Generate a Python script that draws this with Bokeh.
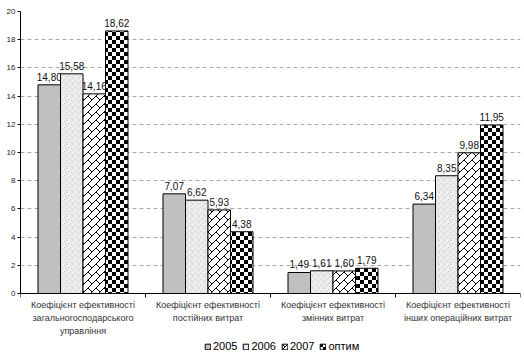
import numpy as np
from bokeh.plotting import figure
from bokeh.models import (ColumnDataSource, Range1d, FixedTicker, Legend, LegendItem,
                          CanvasTexture, Span)
from bokeh.core.properties import value
from bokeh.embed import file_html
from bokeh.resources import INLINE

categories = [
    "Коефіцієнт ефективності\nзагальногосподарського\nуправління",
    "Коефіцієнт ефективності\nпостійних витрат",
    "Коефіцієнт ефективності\nзмінних витрат",
    "Коефіцієнт ефективності\nінших операційних витрат",
]
series_names = ["2005", "2006", "2007", "оптим"]
v2005 = [14.80, 7.07, 1.49, 6.34]
v2006 = [15.58, 6.62, 1.61, 8.35]
v2007 = [14.16, 5.93, 1.60, 9.98]
voptim = [18.62, 4.38, 1.79, 11.95]
y_ticks = [0, 2, 4, 6, 8, 10, 12, 14, 16, 18, 20]

FONT = "Liberation Sans"

# texture tiles: the canvas is resized here to the tile size
checker = CanvasTexture(repetition="repeat", code="""
const c = ctx.canvas; c.width = 8; c.height = 8;
ctx.fillStyle = '#ffffff';
ctx.fillRect(0, 0, 8, 8);
ctx.fillStyle = '#000000';
ctx.fillRect(0, 0, 4, 4);
ctx.fillRect(4, 4, 4, 4);
""")

brick = CanvasTexture(repetition="repeat", code="""
const c = ctx.canvas; c.width = 8; c.height = 8;
ctx.fillStyle = '#ffffff';
ctx.fillRect(0, 0, 8, 8);
ctx.fillStyle = '#000000';
for (let i = 0; i < 8; i++) { ctx.fillRect(7 - i, i, 1, 1); }
for (let i = 0; i < 4; i++) { ctx.fillRect(i, i, 1, 1); }
""")

speckle = CanvasTexture(repetition="repeat", code="""
const c = ctx.canvas; c.width = 6; c.height = 6;
ctx.fillStyle = '#EAEAEA';
ctx.fillRect(0, 0, 6, 6);
ctx.fillStyle = '#D2D2D2';
ctx.fillRect(1, 0, 1, 1);
ctx.fillRect(4, 1, 1, 1);
ctx.fillRect(2, 3, 1, 1);
ctx.fillRect(5, 4, 1, 1);
ctx.fillRect(0, 5, 1, 1);
ctx.fillStyle = '#F9F9F9';
ctx.fillRect(3, 0, 1, 1);
ctx.fillRect(0, 2, 1, 1);
ctx.fillRect(4, 5, 1, 1);
ctx.fillRect(2, 1, 1, 1);
""")

# layout: values 0..20 occupy 282 px; the frame extends below zero to hold
# the category labels and the legend
FRAME_H = 350
DATA_H = 282
y_lo = -(FRAME_H - DATA_H) / DATA_H * 20

p = figure(frame_width=500, frame_height=FRAME_H, output_backend="svg", toolbar_location=None,
           x_range=Range1d(0, 4), y_range=Range1d(y_lo, 20), x_axis_location=None,
           min_border_left=20, min_border_right=4, min_border_top=11, min_border_bottom=0)
p.outline_line_color = None
p.background_fill_color = "white"
p.border_fill_color = "white"

n = len(categories)
idx = np.arange(n)
offsets = [-0.27, -0.09, 0.09, 0.27]
all_vals = [v2005, v2006, v2007, voptim]
styles = [
    dict(fill_color="#C0C0C0"),
    dict(fill_color="#EAEAEA", hatch_pattern=value("speckle"), hatch_scale=6,
         hatch_extra={"speckle": speckle}),
    dict(fill_color="white", hatch_pattern=value("brick"), hatch_scale=8,
         hatch_extra={"brick": brick}),
    dict(fill_color="white", hatch_pattern=value("checker"), hatch_scale=8,
         hatch_extra={"checker": checker}),
]

p.ygrid.grid_line_color = "#A8A8A8"
p.ygrid.grid_line_dash = "4 3"
p.ygrid.ticker = FixedTicker(ticks=y_ticks)

renderers = []
for name, vals, off, st in zip(series_names, all_vals, offsets, styles):
    src = ColumnDataSource(dict(
        x=idx + 0.5 + off,
        top=vals,
        lbl=[f"{v:.2f}".replace(".", ",") for v in vals],
    ))
    r = p.vbar(x="x", top="top", width=0.18, bottom=0, source=src,
               line_color="black", line_width=1, **st)
    renderers.append(r)
    p.text(x="x", y="top", text="lbl", source=src, text_align="center",
           text_baseline="bottom", y_offset=-4, text_font=value(FONT),
           text_font_size="10px", text_color="#111111")

# category axis: line at zero, ticks at category boundaries, labels under centres
p.add_layout(Span(location=0, dimension="width", line_color="black", line_width=1))
bounds_src = ColumnDataSource(dict(x=np.arange(n + 1), y=np.zeros(n + 1)))
p.ray(x="x", y="y", length=4, length_units="screen", angle=-90, angle_units="deg",
      line_color="black", line_width=1, source=bounds_src)
cat_src = ColumnDataSource(dict(x=idx + 0.5, y=np.zeros(n), t=categories))
p.text(x="x", y="y", text="t", source=cat_src, text_align="center", text_baseline="top",
       y_offset=6, text_font=value(FONT), text_font_size="9px", text_color="#333333",
       text_line_height=1.3)

ya = p.yaxis[0]
ya.ticker = FixedTicker(ticks=y_ticks)
ya.bounds = (0, 20)
ya.minor_tick_line_color = None
ya.major_tick_out = 3
ya.major_tick_in = 0
ya.major_tick_line_color = "black"
ya.axis_line_color = "black"
ya.major_label_text_font = FONT
ya.major_label_text_font_size = "8px"
ya.major_label_text_color = "#222222"
ya.major_label_standoff = 2

p.xgrid.grid_line_color = None

legend = Legend(items=[LegendItem(label=nm, renderers=[r]) for nm, r in zip(series_names, renderers)],
                orientation="horizontal", location=(184, 9))
legend.label_text_font = FONT
legend.label_text_font_size = "11px"
legend.label_text_color = "black"
legend.glyph_width = 7
legend.glyph_height = 7
legend.label_standoff = 2
legend.spacing = 5
legend.padding = 0
legend.margin = 0
legend.border_line_color = None
legend.background_fill_alpha = 0
legend.label_height = 12
p.add_layout(legend, "center")

open("out.html", "w").write(file_html(p, INLINE))
